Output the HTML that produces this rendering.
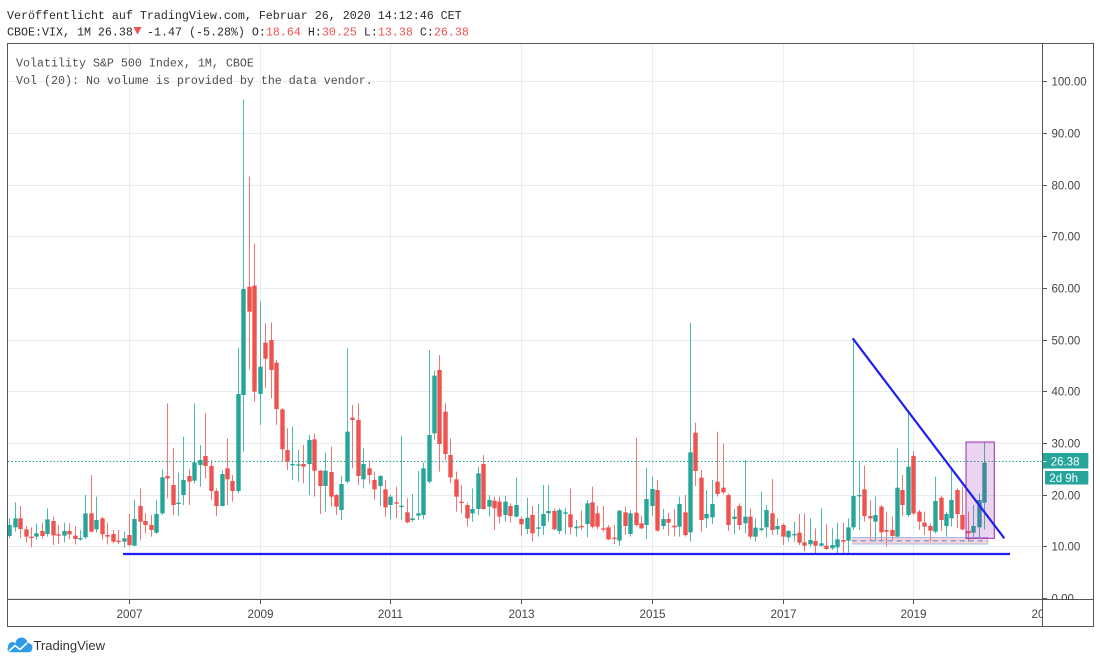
<!DOCTYPE html>
<html><head><meta charset="utf-8">
<style>
html,body{margin:0;padding:0;background:#fff;}
svg{display:block;}
</style></head><body>
<svg id="c" width="1100" height="664" viewBox="0 0 1100 664" xmlns="http://www.w3.org/2000/svg">
<rect width="1100" height="664" fill="#fff"/>
<defs>
<clipPath id="plot"><rect x="8" y="44" width="1034.5" height="555"/></clipPath>
<clipPath id="paxis"><rect x="1043" y="44" width="51" height="555.5"/></clipPath>
<clipPath id="taxis"><rect x="8" y="600" width="1034.5" height="26"/></clipPath>
</defs>

<!-- header -->
<text x="7" y="19" font-family="'Liberation Mono', monospace" font-size="11.67" fill="#2a2a2a" xml:space="preserve">Veröffentlicht auf TradingView.com, Februar 26, 2020 14:12:46 CET</text>
<text x="7" y="35.5" font-family="'Liberation Mono', monospace" font-size="11.67" fill="#2a2a2a" xml:space="preserve">CBOE:VIX, 1M 26.38</text>
<polygon points="133.5,27 141.5,27 137.5,34.5" fill="#ef5350"/>
<text x="140" y="35.5" font-family="'Liberation Mono', monospace" font-size="11.67" fill="#2a2a2a" xml:space="preserve"> -1.47 (-5.28%) O:<tspan fill="#ef5350">18.64</tspan> H:<tspan fill="#ef5350">30.25</tspan> L:<tspan fill="#ef5350">13.38</tspan> C:<tspan fill="#ef5350">26.38</tspan></text>

<g id="grid" stroke="#e6edf3" stroke-width="1" shape-rendering="crispEdges"></g>

<!-- overlay legend -->
<text x="16" y="66.5" font-family="'Liberation Mono', monospace" font-size="11.67" fill="#4e4e4e" xml:space="preserve">Volatility S&amp;P 500 Index, 1M, CBOE</text>
<text x="16" y="84" font-family="'Liberation Mono', monospace" font-size="11.67" fill="#4e4e4e" xml:space="preserve">Vol (20): No volume is provided by the data vendor.</text>

<g id="candles" clip-path="url(#plot)"></g>

<g clip-path="url(#plot)">
  <line x1="8" x2="1042" y1="461.5" y2="461.5" stroke="#26a69a" stroke-width="1" stroke-dasharray="1.5,2"/>
  <rect x="851.7" y="537.5" width="136.6" height="6.5" fill="#f23645" fill-opacity="0.22"/>
  <line x1="851.7" x2="988.3" y1="537.5" y2="537.5" stroke="#9dbdeb" stroke-width="1"/>
  <line x1="851.7" x2="988.3" y1="544" y2="544" stroke="#9dbdeb" stroke-width="1"/>
  <line x1="851.7" x2="988.3" y1="540.8" y2="540.8" stroke="#6f9fe2" stroke-width="1.3" stroke-dasharray="5,4"/>
  <rect x="966" y="442" width="28.3" height="96.3" fill="#9c27b0" fill-opacity="0.2" stroke="#9c27b0" stroke-width="1"/>
  <line x1="123" x2="1010" y1="554" y2="554" stroke="#1f1ff0" stroke-width="2.2"/>
  <line x1="852.7" y1="338.3" x2="1004.3" y2="538.3" stroke="#1f1ff0" stroke-width="2.2"/>
</g>

<!-- borders -->
<rect x="7.5" y="43.5" width="1086" height="583" fill="none" stroke="#555" stroke-width="1"/>
<line x1="1042.5" x2="1042.5" y1="43.5" y2="626.5" stroke="#555" stroke-width="1"/>
<line x1="7.5" x2="1093.5" y1="599.5" y2="599.5" stroke="#555" stroke-width="1"/>

<g id="pax" clip-path="url(#paxis)" font-family="'Liberation Sans', sans-serif" font-size="11.5" fill="#444"></g>
<g id="tax" clip-path="url(#taxis)" font-family="'Liberation Sans', sans-serif" font-size="11.7" fill="#444"></g>

<!-- price boxes -->
<rect x="1043" y="453" width="45.3" height="15.5" fill="#26a69a"/>
<line x1="1043" x2="1046.5" y1="461.5" y2="461.5" stroke="#fff" stroke-width="1"/>
<text x="1050.7" y="465.3" font-family="'Liberation Sans', sans-serif" font-size="11.5" fill="#fff">26.38</text>
<rect x="1045" y="471" width="43.3" height="13.5" fill="#26a69a"/>
<text x="1049.3" y="482" font-family="'Liberation Sans', sans-serif" font-size="11.5" fill="#fff">2d 9h</text>

<!-- logo -->
<g>
  <circle cx="21.5" cy="643.5" r="6" fill="#2e9be8"/>
  <circle cx="12.5" cy="646.5" r="4.5" fill="#2e9be8"/>
  <circle cx="28" cy="647.5" r="4.5" fill="#2e9be8"/>
  <rect x="7.5" y="646" width="24.5" height="6.3" rx="3" fill="#2e9be8"/>
  <polyline points="9,651 15,645.5 20,649.5 27,643" fill="none" stroke="#fff" stroke-width="1.6"/>
</g>
<text x="33.5" y="650" font-family="'Liberation Sans', sans-serif" font-size="13" fill="#333">TradingView</text>
</svg>

<script>
(function(){
const NS='http://www.w3.org/2000/svg';
function el(tag,a,p){const e=document.createElementNS(NS,tag);for(const k in a)e.setAttribute(k,a[k]);p.appendChild(e);return e;}
const Y=v=>598-5.168*v;
const grid=document.getElementById('grid');
for(let v=0;v<=100;v+=10){const y=Math.round(Y(v))+0.5;el('line',{x1:8,x2:1042,y1:y,y2:y},grid);}
const years=[[2007,0],[2009,24],[2011,48],[2013,72],[2015,96],[2017,120],[2019,144],[2021,168]];
years.forEach(([yr,m])=>{const x=Math.round(129+m*5.447)+0.5;if(x<1042)el('line',{x1:x,x2:x,y1:44,y2:599},grid);});
const pax=document.getElementById('pax');
for(let v=0;v<=100;v+=10){const y=Math.round(Y(v))+0.5;
 el('line',{x1:1043,x2:1047,y1:y,y2:y,stroke:'#555','stroke-width':1},pax);
 const t=el('text',{x:1051.5,y:y+4},pax);t.textContent=v.toFixed(2);}
const tax=document.getElementById('tax');
years.forEach(([yr,m])=>{const x=Math.round(129+m*5.447)+0.5;
 if(x<1042)el('line',{x1:x,x2:x,y1:600,y2:604,stroke:'#555','stroke-width':1},tax);
 const t=el('text',{x:x,y:618,'text-anchor':'middle'},tax);t.textContent=yr;});
const secs=[
[390,0,[
['g',405,438,385,445],['g',385,412,337,425],['r',385,417,348,445],['r',418,440,408,458],['r',440,443,412,472],
['g',430,440,400,450],['r',423,438,398,445],['g',388,432,355,440],['r',393,436,380,465],['r',433,437,405,462],
['g',423,437,398,457],['r',423,433,400,448],['r',437,447,408,463],['g',444,448,420,452],['g',370,442,315,447],
['r',370,425,255,428],['g',390,418,320,428],['r',385,433,380,448],['r',435,440,398,463],['r',432,455,420,460],
['r',452,455,420,462],['g',445,455,425,473],
['r',435,465,372,470],['g',387,467,328,468],['r',348,395,295,450],['r',393,405,370,430],['r',405,420,375,440],
['g',372,428,330,432],['g',262,370,238,375],['r',258,265,40,325],['r',285,345,175,375],['g',338,342,248,378],
['g',270,315,140,345],['r',258,275,238,345]
]],
[90,34,[
['g',1117,1172,940,1180],['g',1110,1125,1065,1190],['r',1098,1128,970,1165],['r',1128,1203,1110,1230],
['r',1203,1248,1195,1278],['g',1152,1248,1140,1250],['r',1135,1168,1045,1245],['r',1173,1203,1155,1235],
['g',912,1203,773,1210],['g',597,915,28,1085],['r',590,665,260,838],['r',587,905,460,935],
['g',830,912,635,1005],['r',758,806,700,895],['r',750,840,697,925],['r',818,957,810,1005],
['r',958,1078,955,1115],['r',1080,1115,1015,1140],['g',1122,1126,1010,1170],['g',1123,1127,1080,1175],
['r',1122,1130,1065,1180],['g',1050,1122,1035,1215],['r',1048,1142,1030,1220],['r',1142,1188,1140,1272],
['g',1142,1188,1088,1265]
]],
[340,59,[
['r',396,470,320,500],['r',465,500,462,525],['g',432,510,407,540],['g',275,425,25,430],['r',233,240,195,385],
['r',240,408,190,435],['g',372,418,325,445],['r',385,405,362,432],['r',420,448,395,478],['g',408,438,405,498],
['r',448,502,420,530],
['g',470,495,465,538],['r',487,490,440,535],['g',497,500,288,540],['r',517,547,475,550],['g',535,540,462,545],
['g',520,527,393,540],['g',385,525,368,538],['g',285,425,30,430],['g',107,280,92,300],['r',90,312,45,395],
['r',215,342,190,360],['r',345,412,295,430],
['r',418,470,395,515],['r',485,488,435,520],['r',495,535,488,560],['g',507,520,445,545],['g',400,507,380,525],
['r',372,507,345,510],['g',480,500,465,530],['r',482,505,470,570]
]],
[390,90,[
['r',335,380,320,400],['g',335,375,318,395],['r',348,378,340,398],['g',345,380,263,382],
['r',387,403,380,437],['g',383,417,323,432],['r',375,430,348,455],['g',412,415,342,440],['g',372,408,285,435],
['g',363,370,285,395],['r',363,418,355,420],['g',360,423,355,432],['g',367,370,353,433],['r',373,412,295,433],
['g',410,415,390,440],['r',408,412,362,420],
['g',340,402,330,442],['r',337,410,290,415],['r',370,410,347,418],['r',415,418,348,425],['r',412,448,405,450],
['r',443,447,405,462],['g',362,452,360,467],['r',367,408,350,435],['g',370,432,360,440],['r',368,405,143,410],
['r',400,415,378,417],['g',327,405,233,447],
['g',297,348,260,378],['r',300,422,270,425],['g',387,408,357,418],['r',387,398,368,437],['r',407,412,357,440]
]],
[400,123,[
['g',312,380,290,410],['r',337,405,285,410],['g',157,397,-232,425],['r',98,213,68,258],['r',233,360,210,395],
['g',342,355,270,383],['g',312,352,240,372],
['r',245,282,95,290],['r',263,277,130,283],['r',285,375,280,393],['g',350,357,327,402],['r',318,375,310,390],
['g',350,370,180,400],['r',350,410,325,418],['g',383,410,355,425],['g',385,390,275,395],['g',330,382,315,412],
['r',340,390,237,405],['g',378,388,355,405],
['r',375,410,370,435],['g',393,412,390,425],['g',402,405,365,425],['r',398,428,342,435],['r',427,437,340,455],
['g',420,433,355,440],['r',423,437,385,460],['g',430,437,325,440],['r',437,447,373,450],['g',435,445,385,450],
['g',418,442,368,460],['r',420,425,368,460]
]],
[320,154,[
['g',622,662,595,698],['g',528,622,55,630],['g',525,528,425,630],['r',508,588,437,605],['r',588,595,540,660],
['g',585,605,530,665],['r',560,637,555,660],['r',630,635,575,680],['r',630,648,590,660],['g',503,650,385,655],
['r',510,555,465,588],['g',440,585,270,590],
['r',408,580,393,585],['r',575,605,570,630],['r',608,620,575,645],['r',618,632,610,665],['g',543,635,470,640],
['r',533,600,527,632],['g',582,618,575,650],['g',540,595,447,620],['r',510,582,505,625],['r',585,628,500,632],
['r',633,640,575,665],['g',618,638,555,650],
['g',540,622,520,655],['g',428,548,368,628]
]]
];
const cg=document.getElementById('candles');
const wg=el('g',{},cg), bg=el('g',{},cg);
secs.forEach(([oy,st,arr])=>{
 arr.forEach((d,k)=>{
  const i=st+k;const x=129+(i-22)*5.447;const cx=Math.round(x)+0.5;
  let [c,t,b,h,l]=d;
  let yt=oy+t/3, yb=oy+b/3, yh=oy+Math.min(h,t)/3, yl=oy+Math.max(l,b)/3;
  const col=c==='g'?'#26a69a':'#ef5350';
  el('line',{x1:cx,x2:cx,y1:yh,y2:yl,stroke:col,'stroke-width':1,'stroke-opacity':0.8},wg);
  const hh=Math.max(1.4,yb-yt);
  el('rect',{x:cx-2.2,y:yt,width:4.4,height:hh,fill:col},bg);
 });
});
})();
</script>
</body></html>
